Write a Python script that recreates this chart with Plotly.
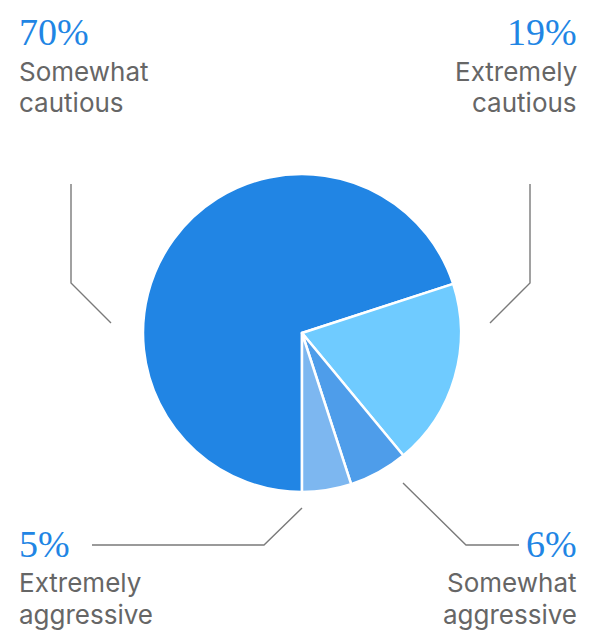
import plotly.graph_objects as go

# Risk appetite breakdown
categories = ["Somewhat cautious", "Extremely cautious", "Somewhat aggressive", "Extremely aggressive"]
values = [70, 19, 6, 5]
colors = ["#2185E4", "#6FCBFF", "#4E9DEA", "#7DB7F0"]
label_lines = [["Somewhat", "cautious"], ["Extremely", "cautious"],
               ["Somewhat", "aggressive"], ["Extremely", "aggressive"]]

W, H = 596, 632
CX, CY, R = 302, 333, 159


def px(x):
    return x / W


def py(y):
    return 1 - y / H


fig = go.Figure(go.Pie(
    labels=categories,
    values=values,
    sort=False,
    direction="clockwise",
    rotation=180,
    marker=dict(colors=colors, line=dict(color="white", width=2.5)),
    textinfo="none",
    hoverinfo="label+percent",
    domain=dict(x=[px(CX - R), px(CX + R)], y=[py(CY + R), py(CY - R)]),
    showlegend=False,
))

# leader lines (pixel polylines)
leaders = [
    [(71, 184), (71, 283), (111, 323)],
    [(530, 184), (530, 283), (490, 323)],
    [(403, 483), (466, 545), (519, 545)],
    [(302, 508), (264, 545), (92, 545)],
]
shapes = []
for pts in leaders:
    path = "M " + " L ".join(f"{px(x)},{py(y)}" for x, y in pts)
    shapes.append(dict(type="path", path=path, xref="paper", yref="paper",
                       line=dict(color="#7a7a7a", width=1.4)))

# label placement: (x, anchor, y of number, y of first text line)
placements = [
    (17, "left", 32, 71),
    (579, "right", 32, 71),
    (579, "right", 544, 582),
    (17, "left", 544, 582),
]
annotations = []
for v, lines, (x, anchor, ny, ty) in zip(values, label_lines, placements):
    annotations.append(dict(
        text=f"{v}%", x=px(x), y=py(ny), xref="paper", yref="paper",
        xanchor=anchor, yanchor="middle", showarrow=False,
        font=dict(family="Liberation Serif", size=38, color="#2185E4")))
    for i, line in enumerate(lines):
        annotations.append(dict(
            text=line, x=px(x), y=py(ty + i * 32), xref="paper", yref="paper",
            xanchor=anchor, yanchor="middle", showarrow=False,
            font=dict(family="Inter", size=26, color="#666666")))

fig.update_layout(
    width=W, height=H,
    margin=dict(l=0, r=0, t=0, b=0),
    paper_bgcolor="white", plot_bgcolor="white",
    shapes=shapes, annotations=annotations,
)

fig.write_html("out.html")
